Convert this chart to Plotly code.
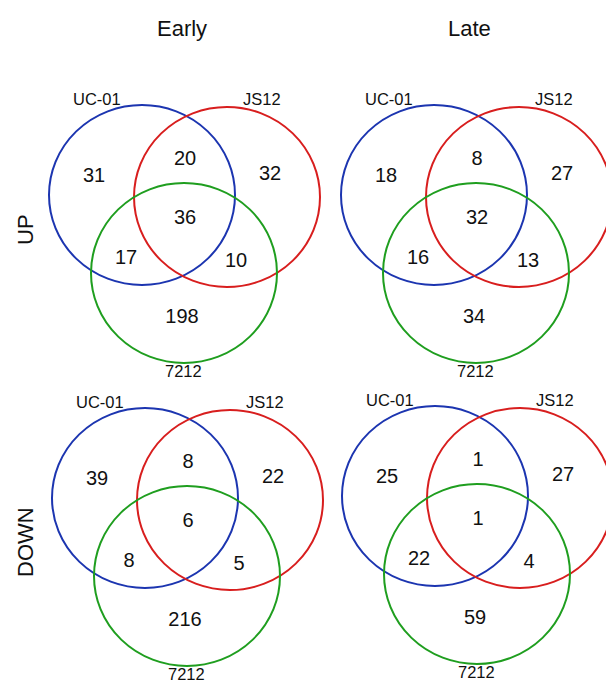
import plotly.graph_objects as go

# ---- data ----
set_names = ["UC-01", "JS12", "7212"]
col_titles = ["Early", "Late"]
row_titles = ["UP", "DOWN"]
# region order: only UC-01, only JS12, only 7212, UC-01&JS12, UC-01&7212, JS12&7212, all three
early_up = [31, 32, 198, 20, 17, 10, 36]
late_up = [18, 27, 34, 8, 16, 13, 32]
early_down = [39, 22, 216, 8, 8, 5, 6]
late_down = [25, 27, 59, 1, 22, 4, 1]

# ---- layout (pixel space) ----
W, H = 606, 684
panels = [
    (early_up, (142, 195)),
    (late_up, (434, 195)),
    (early_down, (145, 498)),
    (late_down, (435, 496)),
]
circle_off = [(0, 0), (85, 2), (42, 78)]
circle_col = ["#1c35b0", "#d81e1e", "#1f9e1f"]
RX, RY = 93, 90
region_off = [(-48, -18), (128, -20), (40, 123), (43, -35), (-16, 64), (94, 67), (43, 24)]
label_off = [(-45, -96), (120, -96), (41, 176)]
FONT = "Liberation Sans, Arial, sans-serif"

fig = go.Figure()
shapes = []
annotations = []
for vals, (bx, by) in panels:
    for (dx, dy), col in zip(circle_off, circle_col):
        cx, cy = bx + dx, by + dy
        shapes.append(dict(type="circle", xref="x", yref="y",
                           x0=cx - RX, x1=cx + RX, y0=cy - RY, y1=cy + RY,
                           line=dict(color=col, width=2), fillcolor="rgba(0,0,0,0)"))
    fig.add_trace(go.Scatter(
        x=[bx + o[0] for o in region_off],
        y=[by + o[1] for o in region_off],
        mode="text", text=[str(v) for v in vals],
        textfont=dict(size=20, color="#111111", family=FONT),
        hoverinfo="skip", showlegend=False))
    for name, (dx, dy) in zip(set_names, label_off):
        annotations.append(dict(x=bx + dx, y=by + dy, xref="x", yref="y", text=name,
                                showarrow=False, font=dict(size=16.5, color="#111111", family=FONT)))

for t, x in zip(col_titles, [182, 469]):
    annotations.append(dict(x=x, y=28, xref="x", yref="y", text=t, showarrow=False,
                            font=dict(size=22, color="#111111", family=FONT)))
for t, y in zip(row_titles, [230, 542]):
    annotations.append(dict(x=25, y=y, xref="x", yref="y", text=t, showarrow=False,
                            textangle=-90, font=dict(size=22, color="#111111", family=FONT)))

fig.update_layout(
    width=W, height=H, margin=dict(l=0, r=0, t=0, b=0),
    paper_bgcolor="white", plot_bgcolor="white",
    xaxis=dict(range=[0, W], visible=False, fixedrange=True),
    yaxis=dict(range=[H, 0], visible=False, fixedrange=True),
    shapes=shapes, annotations=annotations, showlegend=False,
)
fig.write_html("out.html", config={"displayModeBar": False},
               post_script="document.body.style.margin='0';document.body.style.overflow='hidden';")
